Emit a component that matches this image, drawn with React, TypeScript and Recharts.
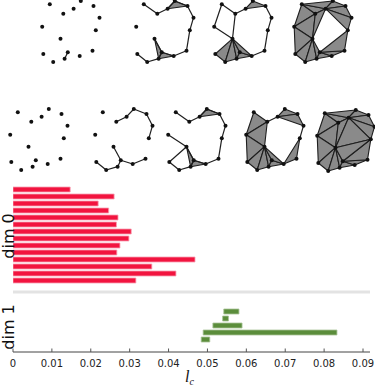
import React from "react";
import {
  BarChart,
  Bar,
  Cell,
  ComposedChart,
  ScatterChart,
  Scatter,
  XAxis,
  YAxis,
  ReferenceLine,
  ReferenceArea,
} from "recharts";

// barcode, dim 0: every bar is born at 0
const dim0Death = [0.0147, 0.026, 0.0219, 0.0246, 0.027, 0.0266, 0.0304, 0.0298, 0.0275, 0.0267, 0.0468, 0.0357, 0.0419, 0.0316];
// barcode, dim 1
const dim1Birth = [0.0542, 0.0539, 0.0514, 0.0489, 0.0484];
const dim1Death = [0.0581, 0.0554, 0.0589, 0.0833, 0.0506];

const xTicks = [0, 0.01, 0.02, 0.03, 0.04, 0.05, 0.06, 0.07, 0.08, 0.09];

// scales at which the complexes are drawn (top row, lower row)
const topScales = [0.0156, 0.0432, 0.0532, 0.0779];
const lowScales = [0.0062, 0.0327, 0.0489, 0.0671, 0.0877];

// point cloud
const cloudX = [7.8, 38.8, 51.5, 21.3, 31.6, 57.5, 0.2, 53.8, 18.5, 1.3, 11.2, 22.6, 25.8, 37.7, 50.5];
const cloudY = [3.3, 0, 5, 12.7, 7.7, 16.7, 25.7, 29.3, 37.7, 53, 61, 57.7, 51.3, 55, 49.7];

// edges / triangles of each complex (indices into the cloud)
const lowEdges1: number[][] = [];
const topEdges1 = [[11, 12]];
const lowEdges2 = [[3, 4], [4, 1], [1, 2], [2, 5], [5, 7], [8, 12], [9, 10], [10, 11], [11, 12], [12, 13], [13, 14]];
const topEdges2 = [...lowEdges2, [0, 3], [7, 14]];
const topTris2 = [[1, 2, 4], [8, 11, 12], [11, 12, 13]];
const lowEdges3 = [...topEdges2, [6, 8], [8, 9]];
const lowTris3 = topTris2;
const topEdges3 = [[0, 3], [0, 6], [6, 8], [3, 8], [3, 4], [2, 5], [5, 7], [7, 14], [13, 14]];
const topTris3 = [[1, 2, 4], [8, 9, 10], [8, 10, 11], [8, 11, 12], [11, 12, 13], [8, 12, 13]];
const lowEdges4 = [[3, 4], [5, 7]];
const lowTris4 = [[0, 3, 6], [3, 6, 8], [6, 8, 9], [8, 9, 10], [8, 10, 11], [8, 11, 12], [11, 12, 13], [8, 12, 13], [1, 2, 4], [2, 4, 5], [7, 13, 14]];
const topTris4 = [[0, 3, 6], [3, 6, 8], [6, 8, 9], [8, 9, 10], [8, 10, 11], [8, 11, 12], [11, 12, 13], [0, 3, 4], [0, 1, 4], [1, 2, 4], [2, 4, 5], [4, 5, 7], [3, 4, 8], [12, 13, 14], [7, 12, 14]];
const lowTris5 = [...topTris4, [4, 7, 8], [7, 8, 12]];

const topComplexes = [
  { edges: topEdges1, tris: [] as number[][] },
  { edges: topEdges2, tris: topTris2 },
  { edges: topEdges3, tris: topTris3 },
  { edges: [] as number[][], tris: topTris4 },
];
const lowComplexes = [
  { edges: lowEdges1, tris: [] as number[][] },
  { edges: lowEdges2, tris: [] as number[][] },
  { edges: lowEdges3, tris: lowTris3 },
  { edges: lowEdges4, tris: lowTris4 },
  { edges: [] as number[][], tris: lowTris5 },
];

// ---- layout ----
const W = 375;
const H = 387;
const LEFT = 13;
const RIGHT = 5;
const X_MAX = 0.0918;
const AXIS_H = 35;
const BAR_TOP = 175;
const ROW_PX = 7;
const FIRST_ROW_Y = 189.5;
const DIM1_ROW_Y = 311.5;
const SEP_Y = 292;
const TOP_GUIDE_Y = 66;
const LOW_GUIDE_Y = 170;
const topOrigins = [[42.2, 1.1], [135.5, 1.2], [214.4, 1.3], [294, 1.3]];
const lowOrigins = [[10, 109], [94.6, 109.1], [167.7, 109.2], [245.6, 109.4], [316.6, 109.7]];
const PAD = 3;
const PANEL_W = 64;
const PANEL_H = 68;

const FONT = "DejaVu Sans, sans-serif";
const RED = "#f2143f";
const GREEN = "#5b8d3b";

const toRow = (py: number) => (py - FIRST_ROW_Y) / ROW_PX;

const barRows = [
  ...dim0Death.map((d, i) => ({ row: i, span: [0, d], dim: 0 })),
  ...dim1Birth.map((b, i) => ({ row: toRow(DIM1_ROW_Y) + i, span: [b, dim1Death[i]], dim: 1 })),
];

const cloud = cloudX.map((x, i) => ({ x, y: cloudY[i] }));

function XTick(props: any) {
  const { x, y, payload } = props;
  const v = payload.value as number;
  return (
    <g>
      <line x1={x} x2={x} y1={y - 3.5} y2={y} stroke="#555" strokeWidth={1} />
      <text x={x} y={y + 14.5} textAnchor="middle" fontSize={10} fontFamily={FONT} fill="#222">
        {v === 0 ? "0" : v.toFixed(2)}
      </text>
    </g>
  );
}

function Guides({ scales, top }: { scales: number[]; top: number }) {
  return (
    <div style={{ position: "absolute", left: 0, top: 0 }}>
      <ComposedChart
        width={W}
        height={H}
        data={scales.map((s) => ({ s }))}
        margin={{ top, right: RIGHT, bottom: AXIS_H, left: LEFT }}
      >
        <XAxis type="number" domain={[0, X_MAX]} hide allowDataOverflow />
        <YAxis type="number" domain={[0, 1]} hide />
        {scales.map((s) => (
          <ReferenceLine key={s} x={s} stroke="#888" strokeWidth={1.2} strokeDasharray="2 1.5" />
        ))}
      </ComposedChart>
    </div>
  );
}

function triShape(tri: number[]) {
  const xs = tri.map((i) => cloudX[i]);
  const ys = tri.map((i) => cloudY[i]);
  const x0 = Math.min(...xs);
  const x1 = Math.max(...xs);
  const y0 = Math.min(...ys);
  const y1 = Math.max(...ys);
  return (p: any) => {
    const pts = tri
      .map((i) => {
        const px = p.x + ((cloudX[i] - x0) / (x1 - x0)) * p.width;
        const py = p.y + ((cloudY[i] - y0) / (y1 - y0)) * p.height;
        return `${px},${py}`;
      })
      .join(" ");
    return <polygon points={pts} fill="#8a8a8a" stroke="#1e1e1e" strokeWidth={1.1} strokeLinejoin="round" />;
  };
}

function Complex({ origin, edges, tris }: { origin: number[]; edges: number[][]; tris: number[][] }) {
  return (
    <div style={{ position: "absolute", left: origin[0] - PAD, top: origin[1] - PAD }}>
      <ScatterChart width={PANEL_W} height={PANEL_H} margin={{ top: 0, right: 0, bottom: 0, left: 0 }}>
        <XAxis type="number" dataKey="x" domain={[-PAD, PANEL_W - PAD]} hide allowDataOverflow />
        <YAxis type="number" dataKey="y" domain={[-PAD, PANEL_H - PAD]} reversed hide allowDataOverflow />
        {tris.map((t, k) => {
          const xs = t.map((i) => cloudX[i]);
          const ys = t.map((i) => cloudY[i]);
          return (
            <ReferenceArea
              key={"t" + k}
              x1={Math.min(...xs)}
              x2={Math.max(...xs)}
              y1={Math.min(...ys)}
              y2={Math.max(...ys)}
              ifOverflow="visible"
              shape={triShape(t)}
            />
          );
        })}
        {edges.map(([a, b], k) => (
          <ReferenceLine
            key={"e" + k}
            segment={[
              { x: cloudX[a], y: cloudY[a] },
              { x: cloudX[b], y: cloudY[b] },
            ]}
            stroke="#1e1e1e"
            strokeWidth={1.2}
            ifOverflow="visible"
          />
        ))}
        <Scatter
          data={cloud}
          isAnimationActive={false}
          shape={(p: any) => <circle cx={p.cx} cy={p.cy} r={2} fill="#111" />}
        />
      </ScatterChart>
    </div>
  );
}

export default function App() {
  return (
    <div style={{ position: "absolute", left: 0, top: 0, width: W, height: H, background: "#fff", overflow: "hidden" }}>
      <div style={{ position: "absolute", left: 0, top: 0 }}>
        <BarChart
          width={W}
          height={H}
          data={barRows}
          layout="vertical"
          margin={{ top: BAR_TOP, right: RIGHT, bottom: 0, left: LEFT }}
        >
          <XAxis
            type="number"
            domain={[0, X_MAX]}
            ticks={xTicks}
            interval={0}
            height={AXIS_H}
            axisLine={{ stroke: "#444" }}
            tickLine={false}
            tickSize={0}
            tickMargin={0}
            tick={(p: any) => <XTick {...p} />}
            allowDataOverflow
          />
          <YAxis
            type="number"
            dataKey="row"
            domain={[toRow(BAR_TOP), toRow(H - AXIS_H)]}
            width={0}
            tick={false}
            tickLine={false}
            axisLine={{ stroke: "#444" }}
            allowDataOverflow
          />
          <ReferenceLine y={toRow(SEP_Y)} stroke="#e3e3e3" strokeWidth={3} />
          <Bar dataKey="span" barSize={5} isAnimationActive={false}>
            {barRows.map((r, i) => (
              <Cell
                key={i}
                fill={r.dim === 0 ? RED : GREEN}
                stroke={r.dim === 0 ? "#f7a0b2" : "#a8c398"}
                strokeWidth={0.8}
              />
            ))}
          </Bar>
        </BarChart>
      </div>

      <Guides scales={topScales} top={TOP_GUIDE_Y} />
      <Guides scales={lowScales} top={LOW_GUIDE_Y} />

      {topComplexes.map((c, i) => (
        <Complex key={"top" + i} origin={topOrigins[i]} edges={c.edges} tris={c.tris} />
      ))}
      {lowComplexes.map((c, i) => (
        <Complex key={"low" + i} origin={lowOrigins[i]} edges={c.edges} tris={c.tris} />
      ))}

      <svg width={W} height={H} style={{ position: "absolute", left: 0, top: 0 }}>
        <text transform="translate(14,236) rotate(-90)" textAnchor="middle" fontSize={16} fontFamily={FONT} fill="#111">
          dim 0
        </text>
        <text transform="translate(14,327) rotate(-90)" textAnchor="middle" fontSize={16} fontFamily={FONT} fill="#111">
          dim 1
        </text>
        <text x={185} y={382} fontFamily="Liberation Serif, serif" fontStyle="italic" fontSize={16} fill="#111">
          l
          <tspan fontSize={10} dy={2.5}>
            c
          </tspan>
        </text>
      </svg>
    </div>
  );
}
